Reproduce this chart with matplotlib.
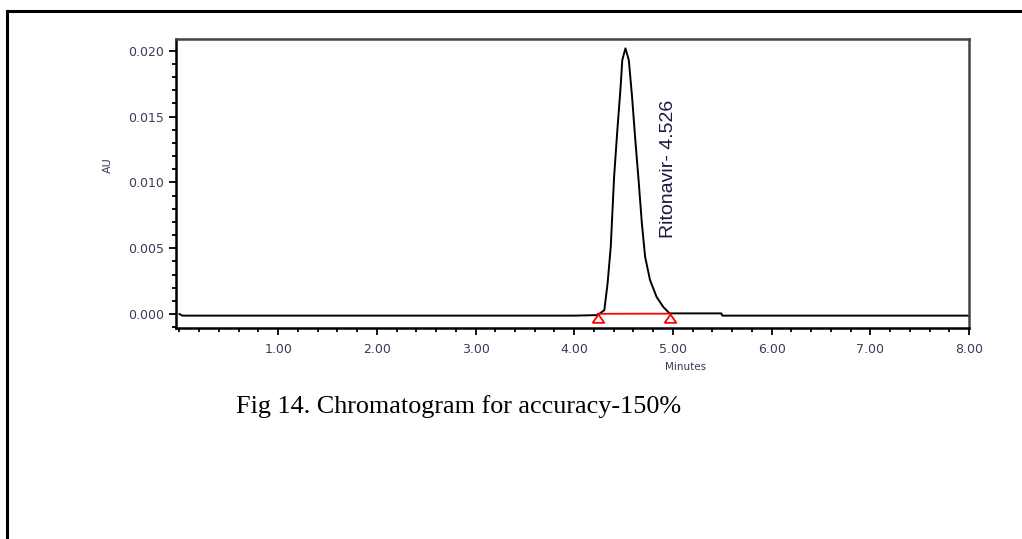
import numpy as np
import matplotlib.pyplot as plt
from matplotlib.ticker import MultipleLocator, FormatStrFormatter

# chromatogram trace (minutes, AU)
time = [0.00, 0.03, 1.00, 2.00, 3.00, 4.00, 4.238, 4.305, 4.338, 4.370, 4.404,
        4.437, 4.470, 4.487, 4.519, 4.553, 4.586, 4.619, 4.652, 4.685, 4.718,
        4.768, 4.834, 4.901, 4.966, 5.20, 5.49, 5.50, 6.00, 7.00, 8.00]
au = [0.0000, -0.00012, -0.00012, -0.00012, -0.00012, -0.00012, -0.00008,
      0.00030, 0.00233, 0.00511, 0.01043, 0.01398, 0.01727, 0.01930, 0.02019,
      0.01930, 0.01651, 0.01322, 0.01018, 0.00692, 0.00436, 0.00258, 0.00131,
      0.00055, 0.00005, 0.00005, 0.00005, -0.00012, -0.00012, -0.00012, -0.00012]

# integration baseline (peak start / end)
base_t = [4.238, 4.966]
base_au = [0.00002, 0.00003]

peak_name = "Ritonavir"
peak_rt = 4.526

fig = plt.figure(figsize=(10.22, 5.39), dpi=100)

# page frame lines (top and left)
fig.add_artist(plt.Line2D([7 / 1022, 1], [1 - 11 / 539, 1 - 11 / 539], color='black', lw=2.2))
fig.add_artist(plt.Line2D([7 / 1022, 7 / 1022], [0, 1 - 11 / 539], color='black', lw=2.2))

ax = fig.add_axes([176 / 1022, 1 - 328 / 539, (969 - 176) / 1022, (328 - 39) / 539])
ax.plot(time, au, color='black', linewidth=1.4)
ax.plot(base_t, base_au, color='red', linewidth=1.3)
tri = [(-0.7, -1.0), (0.7, -1.0), (0.0, 0.0), (-0.7, -1.0)]
ax.plot(base_t, base_au, linestyle='none', marker=tri, markersize=12,
        markerfacecolor='none', markeredgecolor='red', markeredgewidth=1.3)

ax.text(peak_rt + 0.43, 0.0058, f"{peak_name}- {peak_rt:.3f}", rotation=90,
        ha='center', va='bottom', fontsize=14, color='#1a1a40',
        family='Liberation Sans')

ax.set_xlim(-0.035, 8.0)
ax.set_ylim(-0.00106, 0.0209)
ax.xaxis.set_major_locator(MultipleLocator(1.0))
ax.xaxis.set_minor_locator(MultipleLocator(0.2))
ax.yaxis.set_major_locator(MultipleLocator(0.005))
ax.yaxis.set_minor_locator(MultipleLocator(0.001))
ax.xaxis.set_major_formatter(FormatStrFormatter('%.2f'))
ax.yaxis.set_major_formatter(FormatStrFormatter('%.3f'))
ax.set_xticks([1, 2, 3, 4, 5, 6, 7, 8])

lab = '#3a3a5a'
ax.tick_params(axis='both', which='major', length=5, width=1.3, labelsize=9,
               labelcolor=lab, direction='out')
ax.tick_params(axis='both', which='minor', length=3, width=1.3, direction='out')
ax.tick_params(axis='x', pad=6)
for t in ax.get_xticklabels() + ax.get_yticklabels():
    t.set_family('DejaVu Sans')

for s in ['left', 'bottom']:
    ax.spines[s].set_linewidth(1.8)
for s in ['top', 'right']:
    ax.spines[s].set_linewidth(1.8)
    ax.spines[s].set_color('#444444')

ax.set_ylabel('AU', fontsize=8, color=lab, family='DejaVu Sans')
ax.yaxis.set_label_coords(-(176 - 113) / (969 - 176), (328 - 165) / (328 - 39))
ax.set_xlabel('Minutes', fontsize=7.5, color=lab, family='DejaVu Sans')
ax.xaxis.set_label_coords((686 - 176) / (969 - 176), -(362 - 328) / (328 - 39))

fig.text(236 / 1022, 1 - 413 / 539, 'Fig 14. Chromatogram for accuracy-150%',
         fontsize=18.8, family='Liberation Serif', ha='left', va='baseline')

plt.savefig('out.png', dpi=100)
